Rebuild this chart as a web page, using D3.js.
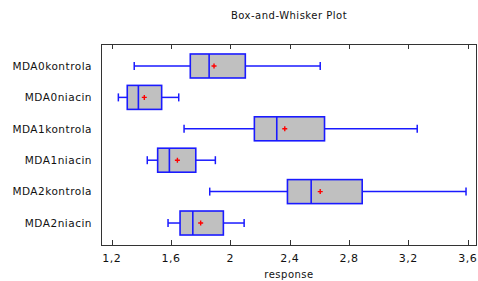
<!DOCTYPE html>
<html lang="en">
<head>
  <meta charset="UTF-8" />
  <title>Box-and-Whisker Plot</title>
  <script src="https://d3js.org/d3.v7.min.js"></script>
  <style>
    body { margin: 0; background: #fff; }
    svg { display: block; font-family: "DejaVu Sans", Verdana, sans-serif; }
    text { fill: #111; letter-spacing: 0.5px; }
  </style>
</head>
<body>
  <svg width="478" height="281"></svg>
  <script>
    const groups = ["MDA0kontrola", "MDA0niacin", "MDA1kontrola", "MDA1niacin", "MDA2kontrola", "MDA2niacin"];
    const mins    = [1.352, 1.245, 1.688, 1.440, 1.861, 1.580];
    const q1s     = [1.730, 1.305, 2.162, 1.510, 2.385, 1.661];
    const medians = [1.857, 1.380, 2.313, 1.589, 2.545, 1.747];
    const means   = [1.890, 1.420, 2.367, 1.643, 2.606, 1.800];
    const q3s     = [2.101, 1.537, 2.635, 1.767, 2.889, 1.953];
    const maxs    = [2.606, 1.652, 3.260, 1.899, 3.589, 2.093];
    const tickValues = [1.2, 1.6, 2.0, 2.4, 2.8, 3.2, 3.6];

    const svg = d3.select("svg");
    const plotLeft = 101, plotRight = 477, plotTop = 44, plotBottom = 245;

    const x = d3.scaleLinear().domain([1.128, 3.663]).range([plotLeft, plotRight]);
    const y = d3.scalePoint().domain(groups).range([plotTop, plotBottom]).padding(0.7);

    const blue = "#1a1aff";
    const boxH = 24, capH = 8;

    // frame
    svg.append("rect")
      .attr("x", plotLeft + 0.5).attr("y", plotTop + 0.5)
      .attr("width", plotRight - plotLeft - 1).attr("height", plotBottom - plotTop)
      .attr("fill", "none").attr("stroke", "#333").attr("stroke-width", 1);

    // ticks top and bottom, pointing inward
    const tickFmt = d => d3.format(".1f")(d).replace(".0", "").replace(".", ",");
    svg.selectAll(".tb").data(tickValues).join("line")
      .attr("x1", d => Math.round(x(d)) + 0.5).attr("x2", d => Math.round(x(d)) + 0.5)
      .attr("y1", plotBottom).attr("y2", plotBottom - 5)
      .attr("stroke", "#333");
    svg.selectAll(".tt").data(tickValues).join("line")
      .attr("x1", d => Math.round(x(d)) + 0.5).attr("x2", d => Math.round(x(d)) + 0.5)
      .attr("y1", plotTop).attr("y2", plotTop + 5)
      .attr("stroke", "#333");
    svg.selectAll(".tl").data(tickValues).join("text")
      .attr("x", d => x(d)).attr("y", 262)
      .attr("text-anchor", "middle").attr("font-size", 11)
      .text(tickFmt);

    // category labels
    svg.selectAll(".cl").data(groups).join("text")
      .attr("x", 92).attr("y", d => y(d)).attr("dy", "0.36em")
      .attr("text-anchor", "end").attr("font-size", 10.5)
      .text(d => d);

    // title and axis title
    svg.append("text").attr("x", (plotLeft + plotRight) / 2).attr("y", 19)
      .attr("text-anchor", "middle").attr("font-size", 10).text("Box-and-Whisker Plot");
    svg.append("text").attr("x", (plotLeft + plotRight) / 2).attr("y", 278)
      .attr("text-anchor", "middle").attr("font-size", 10).text("response");

    const rows = groups.map((g, i) => ({
      g, min: mins[i], q1: q1s[i], med: medians[i], mean: means[i], q3: q3s[i], max: maxs[i]
    }));

    const row = svg.selectAll(".row").data(rows).join("g")
      .attr("transform", d => `translate(0,${y(d.g)})`);

    // whiskers
    row.append("line")
      .attr("x1", d => x(d.min)).attr("x2", d => x(d.q1))
      .attr("stroke", blue).attr("stroke-width", 1.5);
    row.append("line")
      .attr("x1", d => x(d.q3)).attr("x2", d => x(d.max))
      .attr("stroke", blue).attr("stroke-width", 1.5);
    row.append("line")
      .attr("x1", d => x(d.min)).attr("x2", d => x(d.min))
      .attr("y1", -capH / 2).attr("y2", capH / 2)
      .attr("stroke", blue).attr("stroke-width", 1.5);
    row.append("line")
      .attr("x1", d => x(d.max)).attr("x2", d => x(d.max))
      .attr("y1", -capH / 2).attr("y2", capH / 2)
      .attr("stroke", blue).attr("stroke-width", 1.5);

    // boxes
    row.append("rect")
      .attr("x", d => x(d.q1)).attr("y", -boxH / 2)
      .attr("width", d => x(d.q3) - x(d.q1)).attr("height", boxH)
      .attr("fill", "#c0c0c0").attr("stroke", blue).attr("stroke-width", 1.6);
    row.append("line")
      .attr("x1", d => x(d.med)).attr("x2", d => x(d.med))
      .attr("y1", -boxH / 2).attr("y2", boxH / 2)
      .attr("stroke", blue).attr("stroke-width", 1.6);

    // mean markers
    row.append("path")
      .attr("d", d => `M${x(d.mean) - 2.5},0H${x(d.mean) + 2.5}M${x(d.mean)},-2.5V2.5`)
      .attr("stroke", "#ff0000").attr("stroke-width", 1.4);
  </script>
</body>
</html>
